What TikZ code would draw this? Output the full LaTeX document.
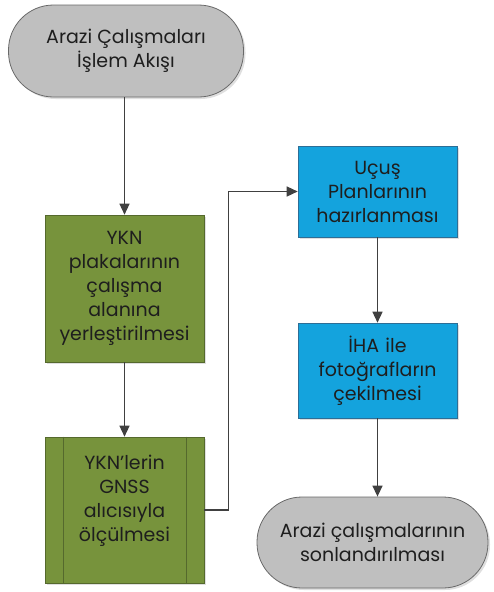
\documentclass[tikz,border=0pt]{standalone}
\usepackage{fontspec}
\setmainfont{Poppins}
\usetikzlibrary{arrows.meta,shadows}
\definecolor{termfill}{RGB}{191,191,191}
\definecolor{termdraw}{RGB}{105,105,105}
\definecolor{grfill}{RGB}{119,147,60}
\definecolor{grdraw}{RGB}{85,105,45}
\definecolor{blfill}{RGB}{20,163,221}
\definecolor{bldraw}{RGB}{45,110,150}
\definecolor{arr}{RGB}{64,64,64}
\definecolor{txt}{RGB}{30,30,30}
\tikzset{
  base/.style={align=center, text=txt, font=\fontsize{19}{24}\selectfont, inner sep=2pt,
    drop shadow={opacity=0.25, shadow xshift=2pt, shadow yshift=-2pt}},
  term/.style={base, fill=termfill, draw=termdraw, line width=0.8pt, rounded corners=45pt},
  grbox/.style={base, fill=grfill, draw=grdraw, line width=0.6pt, minimum width=159pt, text width=154pt},
  blbox/.style={base, fill=blfill, draw=bldraw, line width=0.6pt, minimum width=159pt, text width=154pt},
  conn/.style={draw=arr, line width=1.4pt, -{Triangle[width=10pt,length=11pt]}},
}
\begin{document}
\begin{tikzpicture}[x=1pt,y=1pt]
\useasboundingbox (0,0) rectangle (493,-592);
\node[term, minimum width=235pt, minimum height=92pt] (start) at (126,-51) {Arazi Çalışmaları\\İşlem Akışı};
\node[grbox, minimum height=147pt] (g1) at (124.5,-288.5) {YKN\\plakalarının\\çalışma\\alanına\\yerleştirilmesi};
\node[grbox, minimum height=146pt] (g2) at (124.5,-510) {YKN’lerin\\GNSS\\alıcısıyla\\ölçülmesi\\\mbox{}};
\draw[grdraw, line width=0.6pt] ([xshift=19pt]g2.north west) -- ([xshift=19pt]g2.south west);
\draw[grdraw, line width=0.6pt] ([xshift=-18pt]g2.north east) -- ([xshift=-18pt]g2.south east);
\node[blbox, minimum height=91pt] (b1) at (377.5,-191.5) {Uçuş\\Planlarının\\hazırlanması};
\node[blbox, minimum height=95pt] (b2) at (377.5,-370.5) {İHA ile\\fotoğrafların\\çekilmesi};
\node[term, minimum width=231pt, minimum height=91pt] (end) at (372.5,-542.5) {Arazi çalışmalarının\\sonlandırılması};
\draw[conn] (start.south -| g1.north) -- (g1.north);
\draw[conn] (g1.south) -- (g2.north);
\draw[conn] (g2.east) -- ++(24,0) |- (b1.west);
\draw[conn] (b1.south) -- (b2.north);
\draw[conn] (b2.south) -- (b2.south |- end.north);
\end{tikzpicture}
\end{document}
